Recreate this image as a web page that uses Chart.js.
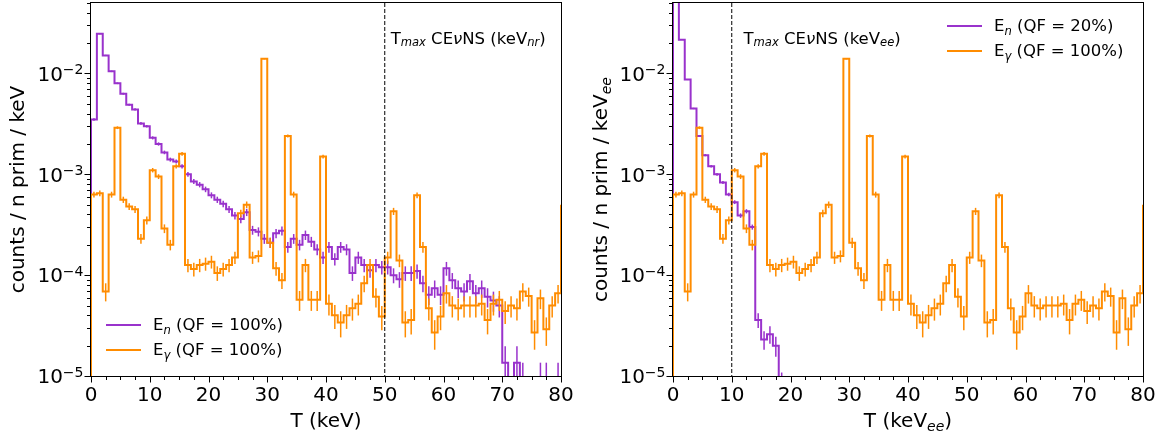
<!DOCTYPE html>
<html>
<head>
<meta charset="utf-8">
<script src="https://cdn.jsdelivr.net/npm/chart.js@4.4.1/dist/chart.umd.min.js"></script>
<style>
  html, body { margin: 0; padding: 0; background: #fff; }
  #wrap { position: relative; width: 1167px; height: 437px; overflow: hidden; }
  canvas { position: absolute; top: 0; }
  #cLeft { left: 0; }
  #cRight { left: 583px; }
</style>
</head>
<body>
<div id="wrap">
  <canvas id="cLeft" width="583" height="437"></canvas>
  <canvas id="cRight" width="584" height="437"></canvas>
</div>
<script>
// ---- binning and axes ----
const BIN_WIDTH = 1;                 // 1 keV bins starting at 0
const X_RANGE = [0, 80];
const Y_RANGE = [1e-5, 0.05];
const X_TICKS = [0, 10, 20, 30, 40, 50, 60, 70, 80];
const X_MINOR_STEP = 2.5;
const Y_DECADES = [-5, -4, -3, -2];

// ---- spectra (counts / n prim / keV), one value per bin ----
// neutron recoils, quenching factor 100 %
const EN_QF100 = [
  3.5e-3, 2.48e-2, 1.51e-2, 1.05e-2, 8.0e-3, 6.3e-3, 4.9e-3, 4.4e-3, 3.2e-3, 3.0e-3,
  2.3e-3, 2.0e-3, 1.65e-3, 1.4e-3, 1.34e-3, 1.2e-3, 1.0e-3, 8.5e-4, 7.9e-4, 7.1e-4,
  6.2e-4, 5.6e-4, 5.1e-4, 4.5e-4, 3.9e-4, 3.6e-4, 4.2e-4, 2.8e-4, 2.7e-4, 2.3e-4,
  2.1e-4, 2.6e-4, 2.75e-4, 1.9e-4, 2.3e-4, 2.0e-4, 2.5e-4, 2.15e-4, 1.8e-4, 1.5e-4,
  1.9e-4, 1.45e-4, 1.9e-4, 1.8e-4, 1.05e-4, 1.5e-4, 1.26e-4, 1.12e-4, 1.26e-4, 1.2e-4,
  1.2e-4, 1.0e-4, 9.1e-5, 1.05e-4, 1.05e-4, 1.1e-4, 8.3e-5, 6.4e-5, 7.4e-5, 6.4e-5,
  1.17e-4, 8.9e-5, 7.4e-5, 6.9e-5, 8.7e-5, 6.6e-5, 7.4e-5, 6.1e-5, 5.6e-5, 5.0e-5,
  1.35e-5, 5.7e-6, 1.35e-5, 8.6e-6, 5.7e-6, null, 8.6e-6, 8.6e-6, null, 8.6e-6
];
// gamma energy deposits, quenching factor 100 % (last entry: first bin above 80 keV)
const EG_QF100 = [
  6.3e-4, 6.5e-4, 6.9e-5, 6.3e-4, 2.9e-3, 5.6e-4, 4.8e-4, 4.5e-4, 2.3e-4, 3.5e-4,
  1.1e-3, 9.5e-4, 2.9e-4, 2.0e-4, 1.2e-3, 1.6e-3, 1.26e-4, 1.15e-4, 1.26e-4, 1.3e-4,
  1.36e-4, 1.05e-4, 1.15e-4, 1.26e-4, 1.5e-4, 4.1e-4, 5.0e-4, 1.5e-4, 1.55e-4, 1.4e-2,
  2.1e-4, 1.17e-4, 8.9e-5, 2.4e-3, 6.3e-4, 5.7e-5, 1.26e-4, 5.7e-5, 5.7e-5, 1.5e-3,
  5.2e-5, 4.0e-5, 3.4e-5, 4.0e-5, 4.7e-5, 5.2e-5, 8.3e-5, 1.26e-4, 6.1e-5, 3.9e-5,
  1.5e-4, 4.3e-4, 1.4e-4, 3.4e-5, 3.6e-5, 6.2e-4, 1.9e-4, 4.7e-5, 2.7e-5, 3.9e-5,
  6.6e-5, 5.0e-5, 4.7e-5, 5.0e-5, 5.0e-5, 5.0e-5, 5.2e-5, 3.6e-5, 5.2e-5, 5.7e-5,
  4.4e-5, 5.0e-5, 4.7e-5, 6.9e-5, 6.2e-5, 2.7e-5, 5.9e-5, 2.9e-5, 5.0e-5, 6.6e-5,
  5.0e-4
];
// neutron recoils converted to electron-equivalent energy, quenching factor 20 %
const EN_QF20 = [
  8.0e-2, 2.16e-2, 8.7e-3, 4.5e-3, 2.4e-3, 1.55e-3, 1.2e-3, 1.0e-3, 8.3e-4, 6.3e-4,
  5.3e-4, 3.9e-4, 4.3e-4, 3.0e-4, 3.6e-5, 2.3e-5, 2.6e-5, 2.0e-5, 8.0e-6
];
// primaries per unit of the y scale, used for the Poisson error bars
const N_PRIM_NR = 3.5e5;
const N_PRIM_EE = 1.0e6;

const PURPLE = '#9932CC';
const ORANGE = '#FF8C00';
const FLOOR = 1e-9;
const FONT = "'DejaVu Sans', sans-serif";

function poissonErrors(vals, nPrim) {
  return vals.map(v => (v == null ? null : Math.sqrt(v / nPrim)));
}

// outline of a step histogram: left edge rises from the floor, each bin is a flat top
function histOutline(vals) {
  const pts = [{ x: 0, y: FLOOR }];
  vals.forEach((v, i) => {
    pts.push({ x: i * BIN_WIDTH, y: v });
    pts.push({ x: (i + 1) * BIN_WIDTH, y: v });
  });
  pts.push({ x: vals.length * BIN_WIDTH, y: FLOOR });
  return pts;
}

function histDataset(vals, errs, color, order) {
  return {
    data: histOutline(vals),
    histValues: vals,
    histErrors: errs,
    borderColor: color,
    borderWidth: 2,
    pointRadius: 0,
    fill: false,
    tension: 0,
    spanGaps: false,
    order: order,
    clip: { left: 2, top: 0, right: 0, bottom: 0 }
  };
}

function fontStr(size, italic) {
  return (italic ? 'italic ' : '') + size + 'px ' + FONT;
}

// text with mathtext-like sub/superscripts; y is the baseline
function drawRich(ctx, parts, x, y, opt) {
  const size = opt.size;
  const pieces = parts.map(p => {
    const s = (p.sub || p.sup) ? size * 0.7 : size;
    ctx.font = fontStr(s, p.it);
    return { p, s, w: ctx.measureText(p.t).width };
  });
  const total = pieces.reduce((a, b) => a + b.w, 0);
  let cx = x;
  if (opt.align === 'center') cx = x - total / 2;
  else if (opt.align === 'right') cx = x - total;
  ctx.textAlign = 'left';
  ctx.textBaseline = 'alphabetic';
  ctx.fillStyle = '#000';
  for (const pc of pieces) {
    ctx.font = fontStr(pc.s, pc.p.it);
    let dy = 0;
    if (pc.p.sub) dy = size * (opt.subDrop == null ? 0.2 : opt.subDrop);
    if (pc.p.sup) dy = -size * (opt.supRise == null ? 0.33 : opt.supRise);
    ctx.fillText(pc.p.t, cx, y + dy);
    cx += pc.w;
  }
}

// Poisson error bars at bin centres, drawn right after their histogram
const errorBars = {
  id: 'errorBars',
  afterDatasetDraw(chart, args) {
    const ds = chart.data.datasets[args.index];
    if (!ds.histErrors) return;
    const { ctx, chartArea: a, scales: { x, y } } = chart;
    ctx.save();
    ctx.beginPath();
    ctx.rect(a.left, a.top, a.right - a.left, a.bottom - a.top);
    ctx.clip();
    ctx.strokeStyle = ds.borderColor;
    ctx.lineWidth = 1.5;
    ds.histValues.forEach((v, i) => {
      const e = ds.histErrors[i];
      if (v == null || e == null) return;
      const cx = x.getPixelForValue((i + 0.5) * BIN_WIDTH);
      const lo = Math.max(v - e, FLOOR);
      ctx.beginPath();
      ctx.moveTo(cx, y.getPixelForValue(v + e));
      ctx.lineTo(cx, y.getPixelForValue(lo));
      ctx.stroke();
    });
    ctx.restore();
  }
};

// frame, ticks, tick labels, titles, marker line, note and legend
const axesDecor = {
  id: 'axesDecor',
  afterDatasetsDraw(chart, args, o) {
    const { ctx, chartArea: a, scales: { x } } = chart;
    const px = x.getPixelForValue(o.tmax);
    ctx.save();
    ctx.strokeStyle = '#000';
    ctx.lineWidth = 1;
    ctx.setLineDash([4, 2]);
    ctx.beginPath();
    ctx.moveTo(px, a.top);
    ctx.lineTo(px, a.bottom);
    ctx.stroke();
    ctx.restore();
  },
  afterDraw(chart, args, o) {
    const { ctx, chartArea: a, scales: { x, y } } = chart;
    ctx.save();
    // frame
    ctx.strokeStyle = '#000';
    ctx.lineWidth = 1;
    ctx.strokeRect(a.left - 0.5, a.top - 0.5, a.right - a.left + 1, a.bottom - a.top + 1);
    const L = a.left - 0.5, B = a.bottom + 0.5;
    // y ticks (log)
    ctx.beginPath();
    Y_DECADES.forEach(e => {
      for (let m = 1; m <= 9; m++) {
        const v = m * Math.pow(10, e);
        if (v < Y_RANGE[0] || v > Y_RANGE[1] * 1.0001) continue;
        const py = Math.round(y.getPixelForValue(v)) + 0.5;
        const len = m === 1 ? 6 : 3.5;
        ctx.moveTo(L - len, py);
        ctx.lineTo(L, py);
      }
    });
    // x ticks
    for (let t = X_RANGE[0]; t <= X_RANGE[1] + 1e-9; t += X_MINOR_STEP) {
      const px = Math.round(x.getPixelForValue(t)) + 0.5;
      const len = X_TICKS.includes(t) ? 6 : 3.5;
      ctx.moveTo(px, B);
      ctx.lineTo(px, B + len);
    }
    ctx.stroke();
    // tick labels
    Y_DECADES.forEach(e => {
      const py = y.getPixelForValue(Math.pow(10, e));
      drawRich(ctx, [{ t: '10' }, { t: '\u2212' + Math.abs(e), sup: true }],
        L - 7, py + 0.365 * 20, { size: 20, align: 'right', supRise: 0.33 });
    });
    X_TICKS.forEach(t => {
      drawRich(ctx, [{ t: String(t) }], x.getPixelForValue(t), a.bottom + 25, { size: 20, align: 'center' });
    });
    // axis titles
    drawRich(ctx, o.xTitle, (a.left + a.right) / 2, a.bottom + 51, { size: 20, align: 'center', subDrop: 0.2 });
    ctx.save();
    ctx.translate(o.yTitleX, (a.top + a.bottom) / 2 + o.yTitleShift);
    ctx.rotate(-Math.PI / 2);
    drawRich(ctx, o.yTitle, 0, 0, { size: 20, align: 'center', subDrop: 0.2 });
    ctx.restore();
    // note next to the marker line
    drawRich(ctx, o.note, x.getPixelForValue(o.noteX), a.top + 41, { size: 16.5, subDrop: 0.13 });
    // legend
    o.legend.forEach((item, i) => {
      const ly = o.legendY + i * 25;
      ctx.strokeStyle = item.color;
      ctx.lineWidth = 2;
      ctx.beginPath();
      ctx.moveTo(o.legendX, ly);
      ctx.lineTo(o.legendX + 35, ly);
      ctx.stroke();
      drawRich(ctx, item.text, o.legendX + 47, ly + 5, { size: 16.5, subDrop: 0.22 });
    });
    ctx.restore();
  }
};

function makeChart(id, datasets, yWidth, padRight, decor) {
  return new Chart(document.getElementById(id), {
    type: 'line',
    data: { datasets },
    options: {
      responsive: false,
      animation: false,
      devicePixelRatio: 1,
      events: [],
      layout: { padding: { top: 3, right: padRight, bottom: 0, left: 0 } },
      scales: {
        x: {
          type: 'linear', min: X_RANGE[0], max: X_RANGE[1],
          ticks: { display: false },
          grid: { display: false, drawTicks: false },
          border: { display: false },
          afterFit(s) { s.height = 61; }
        },
        y: {
          type: 'logarithmic', min: Y_RANGE[0], max: Y_RANGE[1],
          ticks: { display: false },
          grid: { display: false, drawTicks: false },
          border: { display: false },
          afterFit(s) { s.width = yWidth; }
        }
      },
      plugins: {
        legend: { display: false },
        tooltip: { enabled: false },
        axesDecor: decor
      }
    },
    plugins: [errorBars, axesDecor]
  });
}

const EN_LABEL_100 = [{ t: 'E' }, { t: 'n', sub: true, it: true }, { t: ' (QF = 100%)' }];
const EN_LABEL_20 = [{ t: 'E' }, { t: 'n', sub: true, it: true }, { t: ' (QF = 20%)' }];
const EG_LABEL_100 = [{ t: 'E' }, { t: '\u03b3', sub: true, it: true }, { t: ' (QF = 100%)' }];

makeChart('cLeft', [
  histDataset(EN_QF100, poissonErrors(EN_QF100, N_PRIM_NR), PURPLE, 1),
  histDataset(EG_QF100, poissonErrors(EG_QF100, N_PRIM_NR), ORANGE, 0)
], 91, 22, {
  tmax: 50,
  noteX: 51,
  note: [{ t: 'T' }, { t: 'max', sub: true, it: true }, { t: ' CE' }, { t: '\u03bd', it: true },
         { t: 'NS (keV' }, { t: 'nr', sub: true, it: true }, { t: ')' }],
  xTitle: [{ t: 'T (keV)' }],
  yTitle: [{ t: 'counts / n prim / keV' }],
  yTitleX: 24, yTitleShift: 0,
  legendX: 106, legendY: 325,
  legend: [{ color: PURPLE, text: EN_LABEL_100 }, { color: ORANGE, text: EG_LABEL_100 }]
});

makeChart('cRight', [
  histDataset(EN_QF20, poissonErrors(EN_QF20, N_PRIM_EE), PURPLE, 1),
  histDataset(EG_QF100, poissonErrors(EG_QF100, N_PRIM_NR), ORANGE, 0)
], 90, 24, {
  tmax: 10,
  noteX: 12,
  note: [{ t: 'T' }, { t: 'max', sub: true, it: true }, { t: ' CE' }, { t: '\u03bd', it: true },
         { t: 'NS (keV' }, { t: 'ee', sub: true, it: true }, { t: ')' }],
  xTitle: [{ t: 'T (keV' }, { t: 'ee', sub: true, it: true }, { t: ')' }],
  yTitle: [{ t: 'counts / n prim / keV' }, { t: 'ee', sub: true, it: true }],
  yTitleX: 24, yTitleShift: 0,
  legendX: 364, legendY: 26,
  legend: [{ color: PURPLE, text: EN_LABEL_20 }, { color: ORANGE, text: EG_LABEL_100 }]
});
</script>
</body>
</html>
